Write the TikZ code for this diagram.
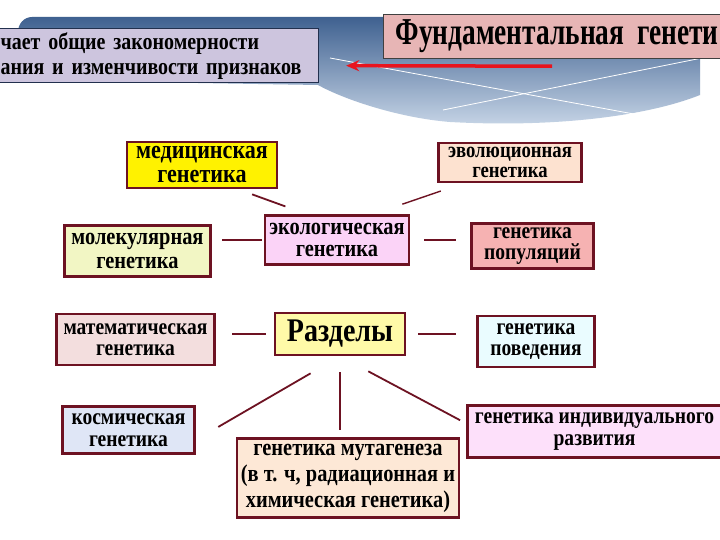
\documentclass[tikz,border=0pt]{standalone}
\usepackage{fontspec}
\setmainfont{Liberation Serif}[FakeStretch=0.85]
\newfontfamily\titlefont{Liberation Serif}[FakeStretch=0.72]
\usetikzlibrary{positioning, arrows.meta}

\definecolor{sectline}{HTML}{6D1222}
\definecolor{bannertop}{HTML}{3F6190}
\definecolor{bannerlow}{HTML}{C9D7E8}
\definecolor{izuchfill}{HTML}{CDC5DE}
\definecolor{izuchline}{HTML}{22304E}
\definecolor{titlefill}{HTML}{E7B5B5}
\definecolor{arrowred}{HTML}{E8141E}
\definecolor{medfill}{HTML}{FFF200}
\definecolor{evolfill}{HTML}{FDE2D0}
\definecolor{molfill}{HTML}{F2F6C4}
\definecolor{ecolfill}{HTML}{FBD3F7}
\definecolor{popfill}{HTML}{F6B2B2}
\definecolor{matfill}{HTML}{F3DEDE}
\definecolor{razdelyfill}{HTML}{FFFAA8}
\definecolor{behavfill}{HTML}{EAFCFF}
\definecolor{cosmfill}{HTML}{DFE6F6}
\definecolor{mutfill}{HTML}{FDE8D6}
\definecolor{indivfill}{HTML}{FDE0FA}

\begin{document}
\begin{tikzpicture}[x=1pt, y=-1pt,
    sect/.style={draw=sectline, line width=2.5pt, align=center, inner sep=1pt,
                 font=\bfseries\fontsize{24}{24}\selectfont},
    tight/.style={font=\bfseries\fontsize{23}{21.5}\selectfont},
    link/.style={draw=sectline, line width=1.8pt}]
    \clip (0,0) rectangle (720,540);
    \fill[white] (0,0) rectangle (720,540);

    % banner
    \shade[top color=bannertop, bottom color=bannerlow]
        (18,32) to[out=90, in=180] (32,17) -- (700,17) -- (700,95)
        .. controls (650,115) and (560,128) .. (450,122)
        .. controls (400,118) and (345,100) .. (318,85) -- (18,80) -- cycle;
    \draw[white, line width=0.8pt] (330,58) -- (650,117);
    \draw[white, line width=0.8pt] (443,110) -- (707,57);

    \node[draw=izuchline, fill=izuchfill, line width=1.2pt, anchor=north west,
          minimum width=324pt, minimum height=54pt, text width=312pt, align=left,
          inner xsep=6pt, font=\bfseries\fontsize{23.5}{25}\selectfont]
          (izuch) at (-6,28) {чает общие закономерности\\ания и изменчивости признаков};
    \node[draw=black!75, fill=titlefill, line width=1.2pt, anchor=north west,
          minimum width=345pt, minimum height=44pt, text width=330pt, align=left,
          inner xsep=12pt, font=\titlefont\bfseries\fontsize{38}{38}\selectfont]
          (title) at (383,14) {Фундаментальная генети};
    \draw[arrowred, line width=3.5pt, -{Stealth[length=13pt, width=11pt]}, shorten >=27pt]
        ([xshift=169pt, yshift=-7pt]title.south west) -- ([yshift=-10pt]izuch.east);

    % sections
    \node[sect, fill=razdelyfill, minimum width=130pt, minimum height=42pt,
          font=\bfseries\fontsize{33}{33}\selectfont]   (razdely) at (340,334) {Разделы};

    \node[sect, fill=ecolfill, minimum width=144pt, minimum height=49pt,
          font=\bfseries\fontsize{24}{22}\selectfont,
          above=46pt of razdely, xshift=-3pt]           (ecol)  {экологическая\\генетика};
    \node[sect, fill=molfill, minimum width=146pt, minimum height=51pt,
          left=52pt of ecol, yshift=-11pt]              (mol)   {молекулярная\\генетика};
    \node[sect, tight, fill=popfill, minimum width=122pt, minimum height=45pt,
          right=60pt of ecol, yshift=-6pt]              (pop)   {генетика\\популяций};
    \node[sect, fill=medfill, minimum width=150pt, minimum height=46pt,
          font=\bfseries\fontsize{26}{24}\selectfont,
          above=25pt of ecol, xshift=-135pt]            (med)   {медицинская\\генетика};
    \node[sect, fill=evolfill, minimum width=143pt, minimum height=39pt,
          font=\bfseries\fontsize{22}{20.5}\selectfont,
          above right=31pt and 27pt of ecol]            (evol)  {эволюционная\\генетика};

    \node[sect, tight, fill=matfill, minimum width=158pt, minimum height=51pt,
          left=58pt of razdely, yshift=-5.5pt]          (mat)   {математическая\\генетика};
    \node[sect, tight, fill=behavfill, minimum width=117pt, minimum height=51pt,
          right=70pt of razdely, yshift=-7.5pt]         (behav) {генетика\\поведения};
    \node[sect, tight, fill=cosmfill, minimum width=132pt, minimum height=47pt,
          below left=49pt and 78pt of razdely]          (cosm)  {космическая\\генетика};
    \node[sect, fill=mutfill, minimum width=222pt, minimum height=79pt,
          font=\bfseries\fontsize{24}{26}\selectfont,
          below=81pt of razdely, xshift=8pt]            (mut)   {генетика мутагенеза\\(в т. ч, радиационная и\\химическая генетика)};
    \node[sect, tight, fill=indivfill, minimum width=254pt, minimum height=52pt,
          below right=48pt and 60pt of razdely]         (indiv) {генетика индивидуального\\развития};

    % connectors
    \draw[link, shorten <=15pt, shorten >=23pt] ([xshift=36pt]med.south) -- ([xshift=-30pt]ecol.north);
    \draw[link, line width=1.4pt, shorten <=24pt, shorten >=31pt] ([xshift=-46.5pt]evol.south) -- ([xshift=36pt]ecol.north);
    \draw[link, shorten <=2pt, shorten >=10pt] (ecol.west) -- (ecol.west -| mol.east);
    \draw[link, shorten <=14pt, shorten >=14pt] (ecol.east) -- (ecol.east -| pop.west);
    \draw[link, shorten <=8pt, shorten >=16pt] (razdely.west) -- (razdely.west -| mat.east);
    \draw[link, shorten <=12pt, shorten >=20pt] (razdely.east) -- (razdely.east -| behav.west);
    \draw[link, shorten <=34pt, shorten >=26pt] (razdely.south) -- ([yshift=-10pt]cosm.east);
    \draw[link, shorten <=16pt, shorten >=7pt] (razdely.south) -- (razdely.south |- mut.north);
    \draw[link, shorten <=32pt, shorten >=7pt] (razdely.south) -- ([yshift=8pt]indiv.west);
\end{tikzpicture}
\end{document}
